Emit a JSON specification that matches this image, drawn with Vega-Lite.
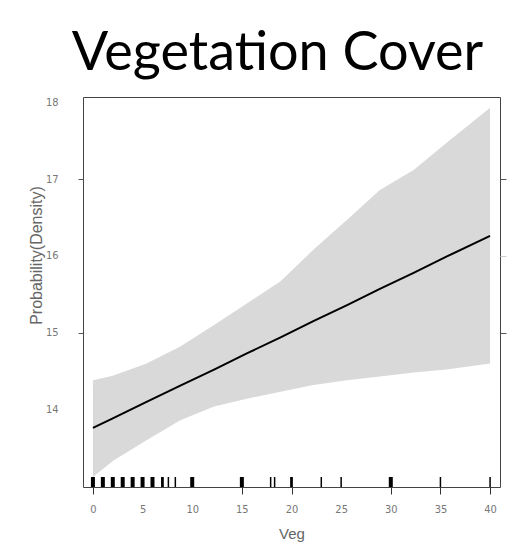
{
  "$schema": "https://vega.github.io/schema/vega-lite/v6.json",
  "width": 417,
  "height": 390,
  "autosize": {"type": "none"},
  "padding": {"left": 83, "top": 97, "right": 25, "bottom": 61},
  "background": "white",
  "title": {
    "text": "Vegetation Cover",
    "font": "Lato",
    "fontSize": 54,
    "fontWeight": "normal",
    "color": "black",
    "anchor": "middle",
    "frame": "group",
    "dx": -14,
    "dy": 55,
    "offset": 27,
    "baseline": "alphabetic"
  },
  "config": {
    "view": {"stroke": "#444", "strokeWidth": 1},
    "axis": {
      "labelFont": "DejaVu Sans Condensed, Liberation Sans, sans-serif",
      "titleFont": "Liberation Sans, sans-serif",
      "labelFontSize": 11,
      "labelColor": "#777",
      "titleColor": "#666",
      "titleFontWeight": "normal",
      "grid": false,
      "domain": false
    }
  },
  "datasets": {
    "band": [
      {"veg": 0, "lower": 13.12, "upper": 14.38, "fit": 13.76},
      {"veg": 2, "lower": 13.33, "upper": 14.44, "fit": 13.885},
      {"veg": 5.4, "lower": 13.60, "upper": 14.60, "fit": 14.10},
      {"veg": 8.8, "lower": 13.86, "upper": 14.82, "fit": 14.31},
      {"veg": 12.2, "lower": 14.04, "upper": 15.10, "fit": 14.52},
      {"veg": 15.5, "lower": 14.14, "upper": 15.38, "fit": 14.73},
      {"veg": 18.9, "lower": 14.23, "upper": 15.67, "fit": 14.94},
      {"veg": 22.2, "lower": 14.32, "upper": 16.08, "fit": 15.15},
      {"veg": 25.6, "lower": 14.38, "upper": 16.47, "fit": 15.36},
      {"veg": 28.9, "lower": 14.43, "upper": 16.86, "fit": 15.57},
      {"veg": 32.3, "lower": 14.48, "upper": 17.12, "fit": 15.78},
      {"veg": 35.6, "lower": 14.52, "upper": 17.47, "fit": 15.99},
      {"veg": 40, "lower": 14.60, "upper": 17.93, "fit": 16.26}
    ],
    "rug": [
      {"veg": 0, "n": 3}, {"veg": 1, "n": 3}, {"veg": 2, "n": 3}, {"veg": 3, "n": 3},
      {"veg": 4, "n": 3}, {"veg": 5, "n": 3}, {"veg": 6, "n": 3}, {"veg": 7, "n": 2},
      {"veg": 7.6, "n": 1}, {"veg": 8.3, "n": 1}, {"veg": 10, "n": 3}, {"veg": 15, "n": 3},
      {"veg": 17.9, "n": 1}, {"veg": 18.3, "n": 1}, {"veg": 20, "n": 2}, {"veg": 23, "n": 1},
      {"veg": 25, "n": 1}, {"veg": 30, "n": 3}, {"veg": 35, "n": 1}, {"veg": 40, "n": 1}
    ]
  },
  "layer": [
    {
      "data": {"name": "band"},
      "mark": {"type": "area", "color": "#d9d9d9"},
      "encoding": {
        "x": {
          "field": "veg", "type": "quantitative",
          "scale": {"domain": [-1, 41], "nice": false, "zero": false},
          "axis": {
            "values": [0, 5, 10, 15, 20, 25, 30, 35, 40],
            "title": "Veg",
            "titleFontSize": 15,
            "titleY": 46,
            "titleBaseline": "middle",
            "tickSize": 7,
            "labelPadding": 9,
            "tickColor": {"condition": {"test": "indexof([0,15,20,30,35,40], datum.value) >= 0", "value": "#333"}, "value": "transparent"}
          }
        },
        "y": {
          "field": "lower", "type": "quantitative",
          "scale": {"domain": [12.99, 18.07], "nice": false, "zero": false},
          "axis": {
            "values": [14, 15, 16, 17, 18],
            "title": "Probability(Density)",
            "titleFontSize": 16,
            "titleX": -47,
            "titleY": 158,
            "titleAngle": -90,
            "titleAlign": "center",
            "titleBaseline": "middle",
            "tickSize": 5,
            "labelPadding": 20,
            "tickColor": {"condition": {"test": "datum.value == 15 || datum.value == 17", "value": "#555"}, "value": "transparent"}
          }
        },
        "y2": {"field": "upper"}
      }
    },
    {
      "data": {"name": "band"},
      "mark": {"type": "line", "color": "black", "strokeWidth": 2},
      "encoding": {
        "x": {"field": "veg", "type": "quantitative"},
        "y": {
          "field": "fit", "type": "quantitative",
          "axis": {
            "orient": "right",
            "values": [15, 16, 17],
            "labels": false,
            "title": null,
            "tickSize": 6,
            "tickColor": {"condition": {"test": "datum.value == 16", "value": "#ccc"}, "value": "#555"}
          }
        }
      }
    },
    {
      "data": {"name": "rug"},
      "mark": {"type": "rule", "color": "black"},
      "encoding": {
        "x": {"field": "veg", "type": "quantitative"},
        "y": {"datum": 12.99, "type": "quantitative", "axis": null},
        "y2": {"datum": 13.12},
        "strokeWidth": {"field": "n", "type": "quantitative", "scale": {"domain": [1, 3], "range": [1.5, 4]}, "legend": null}
      }
    }
  ],
  "resolve": {"axis": {"y": "independent"}}
}
